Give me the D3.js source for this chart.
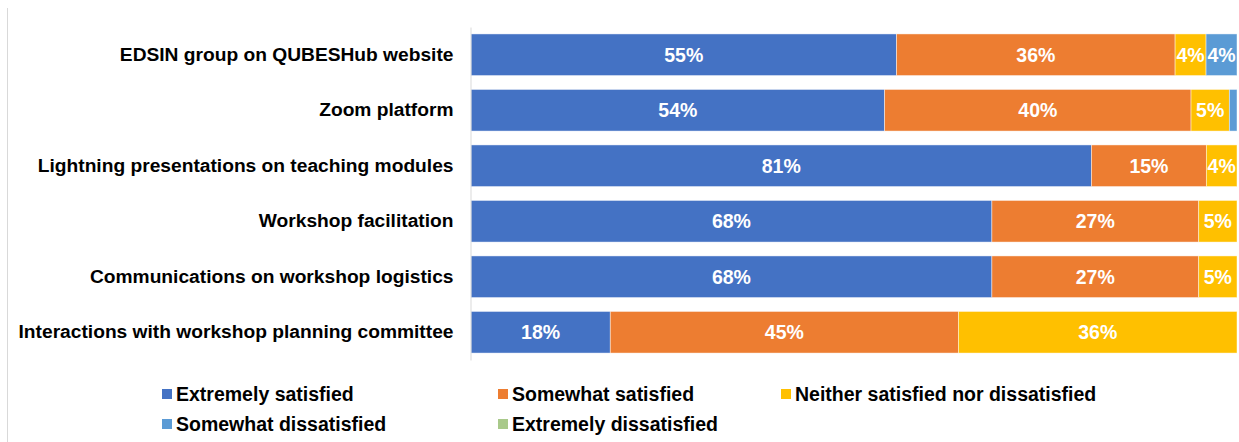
<!DOCTYPE html>
<html>
<head>
<meta charset="utf-8">
<script src="https://cdn.jsdelivr.net/npm/d3@7/dist/d3.min.js"></script>
<style>
  html, body { margin: 0; padding: 0; background: #fff; }
  svg { display: block; font-family: "Liberation Sans", Arial, sans-serif; }
</style>
</head>
<body>
<svg id="chart" width="1239" height="442"></svg>
<script>
// Survey items, top to bottom
const categories = [
  "EDSIN group on QUBESHub website",
  "Zoom platform",
  "Lightning presentations on teaching modules",
  "Workshop facilitation",
  "Communications on workshop logistics",
  "Interactions with workshop planning committee"
];

const seriesNames = [
  "Extremely satisfied",
  "Somewhat satisfied",
  "Neither satisfied nor dissatisfied",
  "Somewhat dissatisfied",
  "Extremely dissatisfied"
];

// Percent of respondents per response, one array per series (same order as categories)
const extremelySatisfied   = [55, 54, 81, 68, 68, 18];
const somewhatSatisfied    = [36, 40, 15, 27, 27, 45];
const neitherSatisfied     = [4, 5, 4, 5, 5, 36];
const somewhatDissatisfied = [4, 1, 0, 0, 0, 0];
const extremelyDissatisfied = [0, 0, 0, 0, 0, 0];

// Response values that are printed on the bars (small slivers are left unlabeled)
const minLabelled = 3;

const colors = ["#4472C4", "#ED7D31", "#FFC000", "#5B9BD5", "#A9C98A"];

const seriesArrays = [extremelySatisfied, somewhatSatisfied, neitherSatisfied, somewhatDissatisfied, extremelyDissatisfied];
const rows = categories.map((c, i) => {
  const r = { category: c };
  seriesNames.forEach((s, k) => { r[s] = seriesArrays[k][i]; });
  return r;
});

const FONT = "19.5px";
const AXIS_FONT = "19.2px";

const svg = d3.select("#chart");

const x = d3.scaleLinear().domain([0, 1]).range([471, 1237]);
const y = d3.scaleBand().domain(categories).range([27, 360]).paddingInner(0.25).paddingOuter(0.125);
const color = d3.scaleOrdinal().domain(seriesNames).range(colors);

// 100% stacked: each row is normalised by its own total
const stacked = d3.stack().keys(seriesNames).offset(d3.stackOffsetExpand)(rows);

// page frame line on the left
svg.append("line")
  .attr("x1", 7.5).attr("x2", 7.5).attr("y1", 8).attr("y2", 442)
  .attr("stroke", "#d9d9d9").attr("stroke-width", 1);

const layers = svg.append("g").selectAll("g")
  .data(stacked)
  .join("g")
  .attr("fill", d => color(d.key));

layers.selectAll("rect")
  .data(d => d.map(v => ({ key: d.key, v })))
  .join("rect")
  .attr("x", d => x(d.v[0]))
  .attr("y", d => y(d.v.data.category))
  .attr("width", d => Math.max(0, x(d.v[1]) - x(d.v[0])))
  .attr("height", y.bandwidth())
  .attr("stroke", "#ffffff")
  .attr("stroke-opacity", 0.6)
  .attr("stroke-width", 0.75);

// value labels
svg.append("g").selectAll("text")
  .data(stacked.flatMap(d => d.map(v => ({ key: d.key, v }))).filter(d => d.v.data[d.key] >= minLabelled))
  .join("text")
  .attr("x", d => (x(d.v[0]) + x(d.v[1])) / 2)
  .attr("y", d => y(d.v.data.category) + y.bandwidth() / 2)
  .attr("dy", "0.36em")
  .attr("text-anchor", "middle")
  .attr("fill", "#ffffff")
  .attr("font-weight", "bold")
  .attr("font-size", FONT)
  .text(d => d.v.data[d.key] + "%");

// category axis
const yAxis = svg.append("g")
  .attr("transform", `translate(${x(0) - 0.5},0)`)
  .call(d3.axisLeft(y).tickSize(0).tickPadding(17));
yAxis.select(".domain").attr("stroke", "#d9d9d9").attr("stroke-width", 1);
yAxis.selectAll("text")
  .attr("font-family", "Liberation Sans, Arial, sans-serif")
  .attr("font-size", AXIS_FONT)
  .attr("font-weight", "bold")
  .attr("fill", "#000");

// legend
const legendPos = [
  { x: 162, y: 394 }, { x: 498, y: 394 }, { x: 781, y: 394 },
  { x: 162, y: 424 }, { x: 498, y: 424 }
];
const legend = svg.append("g").selectAll("g")
  .data(seriesNames)
  .join("g")
  .attr("transform", (d, i) => `translate(${legendPos[i].x},${legendPos[i].y})`);
legend.append("rect")
  .attr("x", 0).attr("y", -5).attr("width", 10).attr("height", 10)
  .attr("fill", d => color(d));
legend.append("text")
  .attr("x", 14).attr("y", 0).attr("dy", "0.36em")
  .attr("font-size", FONT).attr("font-weight", "bold").attr("fill", "#000")
  .text(d => d);
</script>
</body>
</html>
